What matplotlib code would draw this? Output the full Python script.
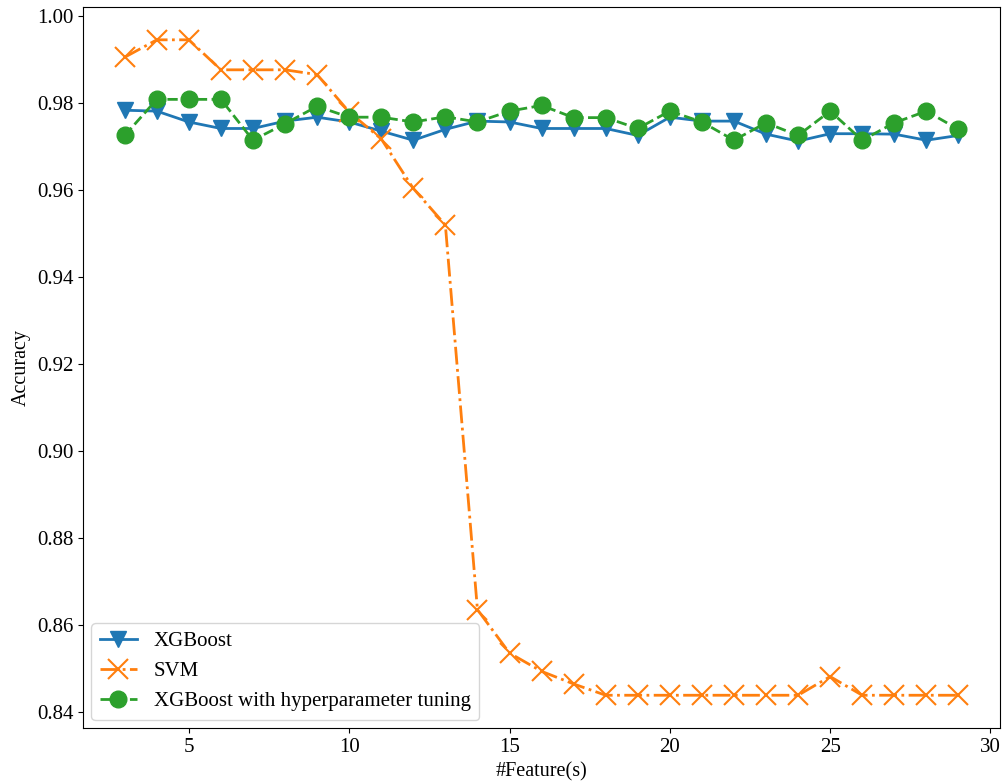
import matplotlib
matplotlib.use('Agg')
import numpy as np
import matplotlib.pyplot as plt

plt.rcParams['font.family'] = ['Liberation Serif', 'DejaVu Serif']

# Number of features used.
n_features = list(range(3, 30))

# Accuracy per model.
acc_xgb = [0.9784, 0.9782, 0.9757, 0.9742, 0.9742, 0.9759, 0.9768, 0.9757, 0.9736,
           0.9715, 0.9740, 0.9759, 0.9757, 0.9742, 0.9742, 0.9742, 0.9726, 0.9768,
           0.9759, 0.9759, 0.9729, 0.9713, 0.9730, 0.9730, 0.9729, 0.9715, 0.9726]
acc_svm = [0.9906, 0.9946, 0.9946, 0.9877, 0.9877, 0.9877, 0.9866, 0.9780, 0.9718,
           0.9604, 0.9520, 0.8635, 0.8535, 0.8493, 0.8464, 0.8438, 0.8438, 0.8438,
           0.8438, 0.8438, 0.8438, 0.8438, 0.8481, 0.8438, 0.8438, 0.8438, 0.8438]
acc_xgb_tuned = [0.9726, 0.9809, 0.9809, 0.9809, 0.9715, 0.9753, 0.9793, 0.9768, 0.9768,
                 0.9757, 0.9769, 0.9757, 0.9782, 0.9795, 0.9767, 0.9767, 0.9742, 0.9782,
                 0.9757, 0.9715, 0.9755, 0.9726, 0.9782, 0.9715, 0.9755, 0.9782, 0.9740]

fig = plt.figure(figsize=(10.03, 7.84), dpi=100)
ax = fig.add_axes([0.0828, 0.0714, 0.9143, 0.9196])

ax.plot(n_features, acc_xgb, '-v', color='tab:blue', lw=2, ms=12, label='XGBoost')
ax.plot(n_features, acc_svm, '-.x', color='tab:orange', lw=2, ms=14, mew=1.5, label='SVM')
ax.plot(n_features, acc_xgb_tuned, '--o', color='tab:green', lw=2, ms=12,
        label='XGBoost with hyperparameter tuning')

ax.set_xlabel('#Feature(s)', fontsize=14.5)
ax.set_ylabel('Accuracy', fontsize=14.5)
ax.tick_params(labelsize=15)
ax.legend(loc='lower left', fontsize=15, handlelength=1.8, borderaxespad=0.4)

fig.savefig('out.png', dpi=100)
